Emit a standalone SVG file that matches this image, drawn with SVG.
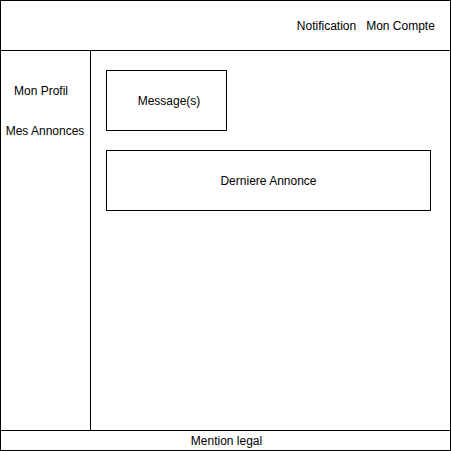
<svg xmlns="http://www.w3.org/2000/svg" width="451" height="451" viewBox="0 0 451 451">
<style>
.box{fill:#fff;stroke:#000;stroke-width:1}
.ln{fill:none;stroke:#000;stroke-width:1}
text{font-family:"Liberation Sans",Arial,sans-serif;font-size:12px;fill:#000;text-anchor:middle}
</style>
<rect width="451" height="451" fill="#fff"/>
<g id="frame">
<rect class="box" x="0.5" y="0.5" width="450" height="450"/>
</g>
<g id="header">
<line class="ln" x1="0.5" y1="50.5" x2="450.5" y2="50.5"/>
<text x="326.5" y="30">Notification</text>
<text x="400.5" y="30">Mon Compte</text>
</g>
<g id="sidebar">
<line class="ln" x1="90.5" y1="50.5" x2="90.5" y2="430.5"/>
<text x="41" y="95">Mon Profil</text>
<text x="45" y="135">Mes Annonces</text>
</g>
<g id="messages">
<rect class="box" x="106.5" y="70.5" width="120" height="60"/>
<text x="169" y="105">Message(s)</text>
</g>
<g id="derniere">
<rect class="box" x="106.5" y="150.5" width="324" height="60"/>
<text x="268.5" y="185">Derniere Annonce</text>
</g>
<g id="footer">
<line class="ln" x1="0.5" y1="430.5" x2="450.5" y2="430.5"/>
<text x="226.5" y="445">Mention legal</text>
</g>
<g id="connectors"></g>
</svg>
